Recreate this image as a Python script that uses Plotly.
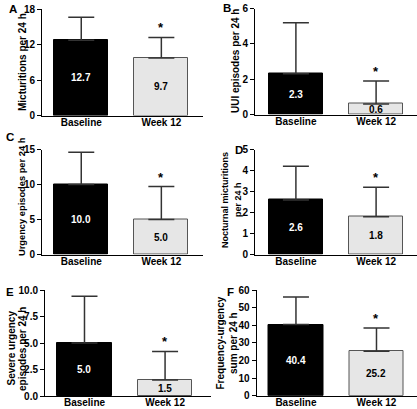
import plotly.graph_objects as go

# ---------------- data ----------------
panel_letters = ["A", "B", "C", "D", "E", "F"]
categories = ["Baseline", "Week 12"]
baseline_mean = [12.7, 2.3, 10.0, 2.6, 5.0, 40.4]
week12_mean = [9.7, 0.6, 5.0, 1.8, 1.5, 25.2]
baseline_sd = [3.9, 2.9, 4.6, 1.6, 4.4, 15.6]
week12_sd = [3.5, 1.3, 4.7, 1.4, 2.7, 13.3]
y_titles = [
    ["Micturitions per 24 h"],
    ["UUI episodes per 24 h"],
    ["Urgency episodes per 24 h"],
    ["Nocturnal micturitions", "per 24 h"],
    ["Severe urgency", "episodes per 24 h"],
    ["Frequency-urgency", "sum per 24 h"],
]
y_max = [18, 6, 15, 5, 10, 60]
y_ticks = [
    [0, 6, 12, 18],
    [0, 2, 4, 6],
    [0, 5, 10, 15],
    [0, 1, 2, 3, 4, 5],
    [0, 2.5, 5, 7.5, 10],
    [0, 10, 20, 30, 40, 50, 60],
]
y_tickformat = ["", "", "", "", ".1f", ""]

# ---------------- layout (pixels) ----------------
W, H = 417, 409
FONT = "Liberation Sans, Arial, Helvetica, sans-serif"
# x0, x1, ytop, ybottom, xrange
geom = [
    (42, 203, 9, 115.5, [-0.49, 1.52]),
    (255, 417, 8.5, 114.5, [-0.51, 1.51]),
    (42, 203, 149.5, 254.5, [-0.49, 1.52]),
    (255, 417, 149.5, 254.5, [-0.51, 1.51]),
    (45, 211, 290, 396, [-0.49, 1.57]),
    (256.5, 417, 290, 395.7, [-0.49, 1.503]),
]
# one (x, y) per title line
title_pos = [
    [(22, 62)],
    [(236, 61)],
    [(22, 197)],
    [(225, 200), (238, 200)],
    [(10.5, 348), (22, 349)],
    [(220, 343.5), (233, 343)],
]
title_size = [10, 10, 9.3, 9, 10, 10]
letter_pos = [(13, 9), (227, 8), (10, 137), (239, 150), (10, 292), (230, 292)]

fig = go.Figure()
annotations = []
layout = {}

for i in range(6):
    ax = "" if i == 0 else str(i + 1)
    x0, x1, yt, yb, xr = geom[i]
    means = [baseline_mean[i], week12_mean[i]]
    sds = [baseline_sd[i], week12_sd[i]]
    fig.add_trace(go.Bar(
        x=[0, 1], y=means, width=0.675,
        marker=dict(color=["#000000", "#e6e6e6"],
                    line=dict(color=["#000000", "#555555"], width=1)),
        error_y=dict(type="data", array=sds, arrayminus=[0, 0], symmetric=False,
                     color="#333333", thickness=1.5, width=13),
        xaxis="x" + ax, yaxis="y" + ax, showlegend=False, hoverinfo="skip",
    ))
    layout["xaxis" + ax] = dict(
        domain=[x0 / W, x1 / W], range=xr, anchor="y" + ax, automargin=False,
        tickmode="array", tickvals=[0, 1], ticktext=categories,
        showline=True, linecolor="#000000", linewidth=1, ticks="",
        ticklabelstandoff=-3,
        showgrid=False, zeroline=False, fixedrange=True,
        tickfont=dict(family=FONT, size=10, color="#000000", weight="bold"),
    )
    layout["yaxis" + ax] = dict(
        domain=[1 - yb / H, 1 - yt / H], range=[0, y_max[i]], anchor="x" + ax,
        automargin=False,
        tickmode="array", tickvals=y_ticks[i], tickformat=y_tickformat[i],
        showline=True, linecolor="#000000", linewidth=1, ticks="outside",
        ticklen=4, tickcolor="#000000", showgrid=False, zeroline=False,
        fixedrange=True,
        tickfont=dict(family=FONT, size=10, color="#000000", weight="bold"),
    )
    # value labels inside bars
    for j, c in enumerate(["#ffffff", "#000000"]):
        annotations.append(dict(
            x=j, y=means[j] / 2, xref="x" + ax, yref="y" + ax,
            text=f"{means[j]:.1f}", showarrow=False,
            font=dict(family=FONT, size=10, color=c, weight="bold"),
        ))
    # significance asterisk
    annotations.append(dict(
        x=1, y=week12_mean[i] + week12_sd[i], xref="x" + ax, yref="y" + ax,
        text="*", showarrow=False, yanchor="bottom", yshift=0,
        font=dict(family=FONT, size=13, color="#000000", weight="bold"),
    ))
    # y-axis title (one annotation per line)
    for line, (tx, ty) in zip(y_titles[i], title_pos[i]):
        annotations.append(dict(
            x=tx / W, y=1 - ty / H, xref="paper", yref="paper",
            text=line, showarrow=False, textangle=-90,
            xanchor="center", yanchor="middle",
            font=dict(family=FONT, size=title_size[i], color="#000000", weight="bold"),
        ))
    # panel letter
    lx, ly = letter_pos[i]
    annotations.append(dict(
        x=lx / W, y=1 - ly / H, xref="paper", yref="paper",
        text=panel_letters[i], showarrow=False,
        xanchor="center", yanchor="middle",
        font=dict(family=FONT, size=11.5, color="#000000", weight="bold"),
    ))

fig.update_layout(
    width=W, height=H, margin=dict(l=0, r=0, t=0, b=0, autoexpand=False),
    plot_bgcolor="#ffffff", paper_bgcolor="#ffffff",
    annotations=annotations, bargap=0, **layout,
)
fig.write_html(
    "out.html",
    config={"displayModeBar": False},
    post_script="document.body.style.margin='0';document.body.style.overflow='hidden';",
)
